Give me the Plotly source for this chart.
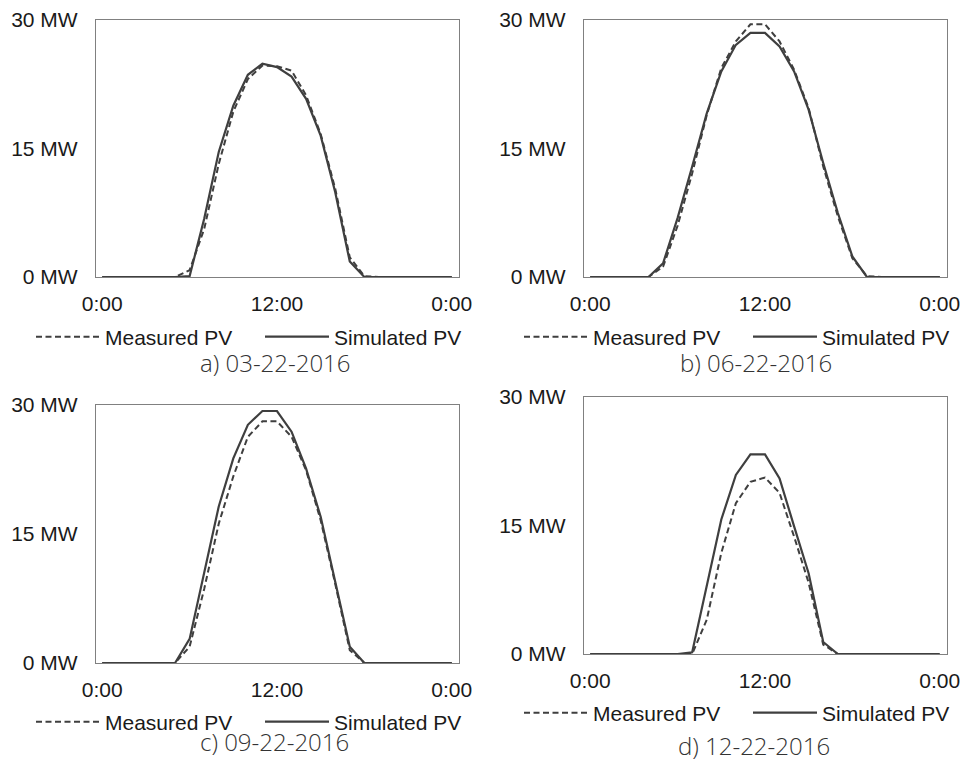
import plotly.graph_objects as go

W, H = 964, 761

hours = list(range(25))
tick_vals = [0, 12, 24]
tick_text = ["0:00", "12:00", "0:00"]
y_tick_vals = [0, 15, 30]
y_tick_text = ["0 MW", "15 MW", "30 MW"]

captions = ["a) 03-22-2016", "b) 06-22-2016", "c) 09-22-2016", "d) 12-22-2016"]

meas_a = [0, 0, 0, 0, 0, 0, 0.8, 5.6, 13.2, 19.3, 23.1, 24.7, 24.6, 24.1, 21.2, 16.7, 10.3, 2.3, 0.1, 0, 0, 0, 0, 0, 0]
sim_a = [0, 0, 0, 0, 0, 0, 0.1, 6.8, 14.6, 20.0, 23.6, 24.9, 24.5, 23.4, 20.8, 16.5, 9.9, 1.8, 0, 0, 0, 0, 0, 0, 0]

meas_b = [0, 0, 0, 0, 0, 1.2, 6.0, 12.1, 18.9, 24.4, 27.5, 29.5, 29.5, 27.5, 24.2, 19.7, 12.9, 7.1, 2.2, 0.1, 0, 0, 0, 0, 0]
sim_b = [0, 0, 0, 0, 0, 1.6, 6.9, 12.9, 19.1, 24.0, 27.1, 28.5, 28.5, 26.9, 24.0, 19.5, 13.3, 7.5, 2.4, 0, 0, 0, 0, 0, 0]

meas_c = [0, 0, 0, 0, 0, 0, 1.9, 8.6, 16.2, 21.7, 26.3, 28.1, 28.1, 26.3, 22.4, 16.6, 9.2, 1.5, 0, 0, 0, 0, 0, 0, 0]
sim_c = [0, 0, 0, 0, 0, 0, 2.8, 10.6, 18.2, 23.8, 27.7, 29.3, 29.3, 26.9, 22.6, 17.0, 9.6, 1.9, 0, 0, 0, 0, 0, 0, 0]

meas_d = [0, 0, 0, 0, 0, 0, 0, 0, 4.0, 11.8, 17.6, 20.1, 20.6, 18.8, 13.7, 8.3, 1.1, 0, 0, 0, 0, 0, 0, 0, 0]
sim_d = [0, 0, 0, 0, 0, 0, 0, 0.2, 7.9, 15.7, 20.9, 23.3, 23.3, 20.5, 14.9, 9.4, 1.4, 0, 0, 0, 0, 0, 0, 0, 0]

measured = [meas_a, meas_b, meas_c, meas_d]
simulated = [sim_a, sim_b, sim_c, sim_d]

# plot boxes in pixels: (left, right, top, bottom)
boxes = [(96, 459, 20, 277), (584, 947, 20, 277), (96, 459, 405, 663), (584, 947, 397, 654)]
legend_pos = [(31, 337), (519, 337), (31, 722), (519, 713)]
caption_pos = [(275, 362), (756, 362), (274, 741), (754, 745)]

LINE = "#3f3f3f"
TXT = "#1a1a1a"
FONT = "Liberation Sans, Arial, sans-serif"

fig = go.Figure()
layout = dict(
    width=W, height=H, margin=dict(l=0, r=0, t=0, b=0, autoexpand=False),
    paper_bgcolor="white", plot_bgcolor="white",
    showlegend=True, annotations=[],
)

for i in range(4):
    n = "" if i == 0 else str(i + 1)
    xa, ya = "x" + n, "y" + n
    lg = "legend" + n
    fig.add_trace(go.Scatter(x=hours, y=measured[i], mode="lines", name="Measured PV",
                             line=dict(color=LINE, width=2, dash="6px,3.5px"),
                             xaxis=xa, yaxis=ya, legend=lg))
    fig.add_trace(go.Scatter(x=hours, y=simulated[i], mode="lines", name="Simulated PV",
                             line=dict(color=LINE, width=2.2),
                             xaxis=xa, yaxis=ya, legend=lg))
    l, r, t, b = boxes[i]
    layout["xaxis" + n] = dict(
        domain=[l / W, r / W], range=[-0.43, 24.5], anchor=ya, automargin=False,
        tickvals=tick_vals, ticktext=tick_text, ticks="", showgrid=False, zeroline=False,
        showline=True, mirror=True, linecolor="#808080", linewidth=1.3,
        tickfont=dict(family=FONT, size=21, color=TXT), ticklabelstandoff=8,
    )
    layout["yaxis" + n] = dict(
        domain=[1 - b / H, 1 - t / H], range=[0, 30], anchor=xa, automargin=False,
        tickvals=y_tick_vals, ticktext=y_tick_text, ticks="", showgrid=False, zeroline=False,
        showline=True, mirror=True, linecolor="#808080", linewidth=1.3,
        tickfont=dict(family=FONT, size=21, color=TXT), ticklabelstandoff=13,
    )
    lx, ly = legend_pos[i]
    layout[lg] = dict(
        orientation="h", x=lx / W, y=1 - ly / H, xanchor="left", yanchor="middle",
        xref="paper", yref="paper", itemwidth=64, entrywidth=150,
        font=dict(family=FONT, size=21, color=TXT), bgcolor="rgba(0,0,0,0)",
        itemclick=False, itemdoubleclick=False,
    )
    cx, cy = caption_pos[i]
    layout["annotations"].append(dict(
        x=cx / W, y=1 - cy / H, xref="paper", yref="paper", text=captions[i],
        showarrow=False, xanchor="center", yanchor="middle",
        font=dict(family="Open Sans, sans-serif", size=24, color="#333333", weight=300),
    ))

fig.update_layout(**layout)
fig.write_html("out.html")
